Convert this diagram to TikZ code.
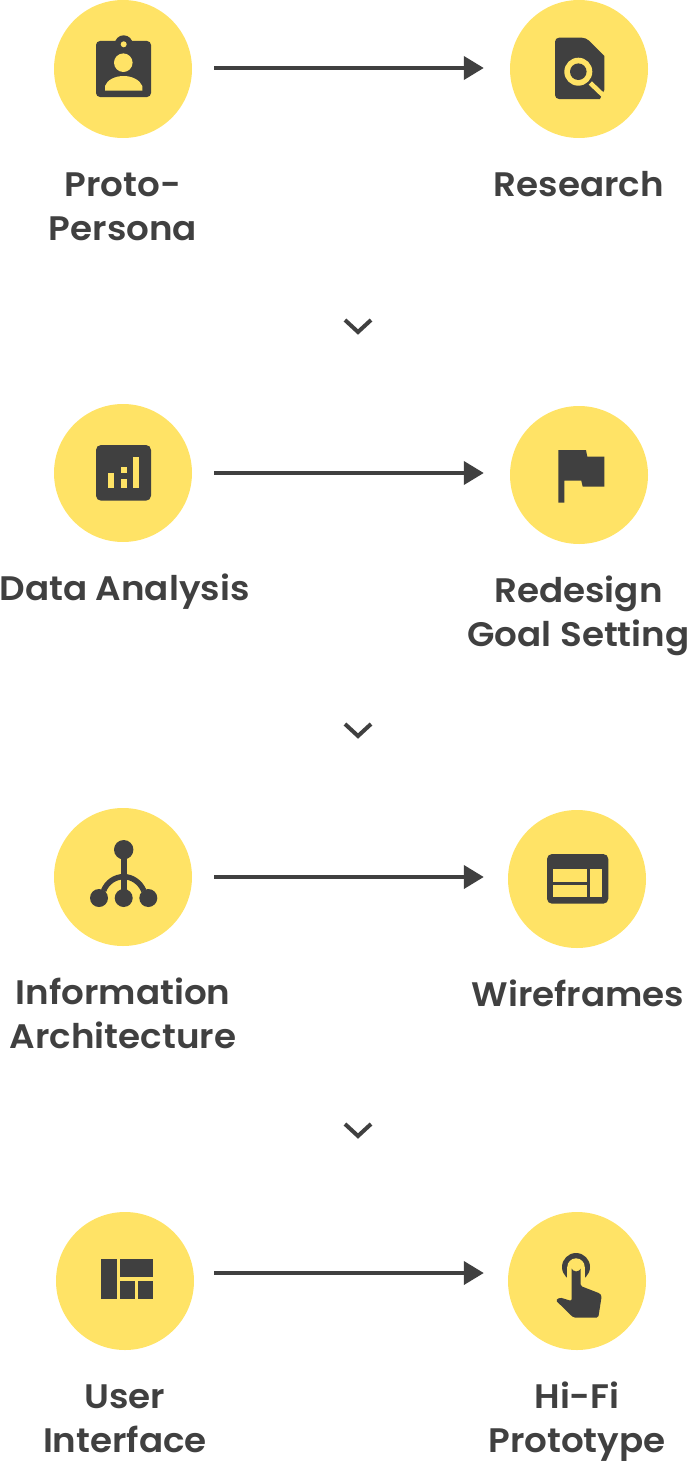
\documentclass[tikz,border=0pt]{standalone}
\usepackage{fontspec}
\setmainfont{Poppins}[UprightFont=* SemiBold,FakeStretch=1.05]
\usetikzlibrary{arrows.meta}
\definecolor{sun}{HTML}{FFE366}
\definecolor{ink}{HTML}{404040}
\tikzset{
  disc/.style={circle,fill=sun,draw=none,minimum size=138pt,inner sep=0pt},
  lbl/.style={text=ink,font=\fontsize{34}{44}\selectfont,align=center,inner sep=0pt,anchor=base},
  flow/.style={draw=ink,line width=4pt,-{Triangle[length=20pt,width=23pt,fill=ink]}},
  chev/.style={draw=ink,line width=4pt,line cap=butt,line join=miter},
  ico/.style={fill=ink,draw=none},
  cut/.style={fill=sun,draw=none}
}
\begin{document}
\begin{tikzpicture}[x=1pt,y=-1pt]
\useasboundingbox (0,0) rectangle (692,1464);
% discs
\node[disc] (a1) at (123,69) {};
\node[disc] (b1) at (579,69) {};
\node[disc] (a2) at (123,473) {};
\node[disc] (b2) at (579,475) {};
\node[disc] (a3) at (123,877) {};
\node[disc] (b3) at (577,879) {};
\node[disc] (a4) at (125,1281) {};
\node[disc] (b4) at (577,1281) {};
% labels
\node[lbl] (la1) at (123,240) {Proto-\\Persona};
\node[lbl] (lb1) at (579,196) {Research};
\node[lbl] (la2) at (124.5,600) {Data Analysis};
\node[lbl] (lb2) at (578.5,646) {Redesign\\Goal Setting};
\node[lbl] (la3) at (123,1048) {Information\\Architecture};
\node[lbl] (lb3) at (578,1006) {Wireframes};
\node[lbl] (la4) at (125,1452) {User\\Interface};
\node[lbl] (lb4) at (577,1452) {Hi-Fi\\Prototype};
% arrows
\draw[flow,shorten <=22pt,shorten >=26pt] ([yshift=1pt]a1.east) -- ([yshift=1pt]b1.west);
\draw[flow,shorten <=22pt,shorten >=26pt] (a2.east) -- ([yshift=2pt]b2.west);
\draw[flow,shorten <=22pt,shorten >=24pt] (a3.east) -- ([yshift=2pt]b3.west);
\draw[flow,shorten <=20pt,shorten >=24pt] ([yshift=8pt]a4.east) -- ([yshift=8pt]b4.west);
% chevrons
\draw[chev] (345,320) -- (358,332) -- (371,320);
\draw[chev] (345,724) -- (358,736) -- (371,724);
\draw[chev] (345,1124) -- (358,1136) -- (371,1124);
% icon badge
\fill[ico,rounded corners=4pt] (96,41) rectangle (151,97);
\fill[ico] (123.7,44.3) circle (9);
\fill[cut] (123.7,44.3) circle (3);
\fill[cut] (123.3,62.7) circle (9.3);
\fill[cut] (105,90.7) -- (105,86) .. controls (107,80) and (115,76) .. (123.6,76) .. controls (132,76) and (140,80) .. (142.3,86) -- (142.3,90.7) -- cycle;
% icon document
\fill[ico,rounded corners=4pt] (555,37.7) -- (586,37.7) [sharp corners] -- (604.3,56) -- (604.3,90) -- (600,99) [rounded corners=4pt] -- (555,99) -- cycle;
\draw[sun,line width=4.6pt] (590.3,83) -- (606,98);
\fill[cut] (602,99.5) -- (606,99.5) -- (606,92) -- cycle;
\fill[cut] (578.3,71.7) circle (14);
\fill[ico] (578.3,71.7) circle (8.3);
% icon chart
\fill[ico,rounded corners=5pt] (96,445) rectangle (151,500.7);
\fill[cut] (108.3,472.7) rectangle (114.3,488.3);
\fill[cut] (120.7,466.7) rectangle (126.7,472.7);
\fill[cut] (120.7,479) rectangle (126.7,488.3);
\fill[cut] (132.7,457.3) rectangle (139,488.3);
% icon flag
\fill[ico] (558.3,450) -- (586,450) -- (587.3,456.7) -- (604.3,456.7) -- (604.3,486.7) -- (582.7,486.7) -- (581.3,480.7) -- (564.3,480.7) -- (564.3,502.7) -- (558.3,502.7) -- cycle;
% icon tree
\fill[ico] (123.7,849.7) circle (9.7);
\fill[ico] (99,898) circle (9);
\fill[ico] (123.7,898) circle (9);
\fill[ico] (148.3,898) circle (9);
\draw[ink,line width=6pt] (123.7,850) -- (123.7,898);
\draw[ink,line width=5.5pt] (103.6,890.7) .. controls (107,882) and (115,876.7) .. (123.7,876.7) .. controls (132,876.7) and (140,882) .. (143.8,890.7);
% icon wireframe
\fill[ico,rounded corners=5pt] (547,854) rectangle (608.3,903.7);
\fill[cut] (553.3,869.3) rectangle (587,882);
\fill[cut] (553.3,885) rectangle (587,897.3);
\fill[cut] (590,869.3) rectangle (602.3,897.3);
% icon layout
\fill[ico] (101,1259.3) rectangle (116.7,1299.3);
\fill[ico] (119.7,1259.3) rectangle (153.3,1277.3);
\fill[ico] (119.7,1280.7) rectangle (135,1299.3);
\fill[ico] (138,1280.7) rectangle (153.3,1299.3);
% icon touch
\fill[ico] (576,1267) circle (14);
\fill[cut] (576,1267) circle (8.7);
\fill[cut] (567.3,1267) rectangle (584.7,1285);
\fill[ico,rounded corners=1.5pt] (571.7,1267) arc (180:0:4.5) -- (580.7,1286) -- (600,1293.5) -- (601.7,1296) -- (598.3,1317.5) -- (573.3,1317.5) -- (555.7,1300.3) -- (560,1297.5) -- (571.7,1301) -- cycle;
\end{tikzpicture}
\end{document}
